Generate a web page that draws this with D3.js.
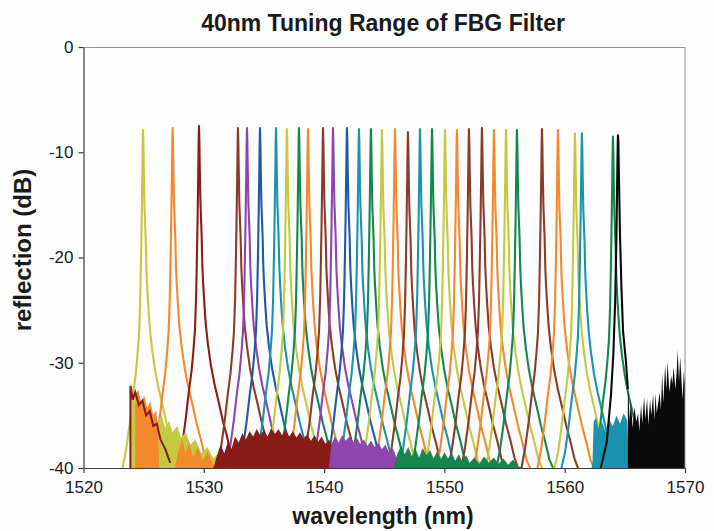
<!DOCTYPE html>
<html>
<head>
<meta charset="utf-8">
<script src="https://cdn.jsdelivr.net/npm/d3@7"></script>
<style>
  html, body { margin: 0; padding: 0; background: #fdfdfd; }
  svg { display: block; font-family: "Liberation Sans", Arial, sans-serif; }
</style>
</head>
<body>
<svg id="chart" width="714" height="531"></svg>
<script>
// Peak centres (nm), peak levels (dB) and trace colours
const peakCenters = [1524.95, 1527.41, 1529.60, 1532.84, 1533.59, 1534.67, 1536.00, 1536.91, 1537.91, 1538.66,
                     1539.91, 1540.74, 1541.90, 1542.90, 1543.89, 1544.81, 1545.89, 1546.97, 1547.97, 1548.97,
                     1550.05, 1551.04, 1552.04, 1553.12, 1554.12, 1555.12, 1556.03, 1558.11, 1559.44, 1560.85,
                     1561.43, 1564.01];
const peakLevels = [-7.9, -7.7, -7.5, -7.7, -7.7, -7.7, -7.7, -7.8, -7.7, -7.8,
                    -7.7, -7.7, -7.7, -7.8, -7.8, -7.9, -7.8, -8.1, -7.8, -7.8,
                    -7.9, -7.9, -7.8, -7.7, -7.9, -7.9, -7.9, -7.8, -7.9, -8.2,
                    -8.2, -8.5];
const peakColors = ["yg", "orange", "maroon", "brown", "purple", "blue", "teal", "yg", "green", "orange",
                    "brown", "purple", "blue", "teal", "green", "yg", "orange", "brown", "teal", "green",
                    "yg", "orange", "brown", "brown", "orange", "yg", "green", "brown", "orange", "yg",
                    "teal", "green"];

// shape of one reflection peak: offset from centre (nm) and level (dB, top = -7.7)
const shapeOffsets = [-1.7, -1.4, -1.1, -0.85, -0.62, -0.46, -0.33, -0.24, -0.17, -0.11, -0.06, -0.025, 0,
                      0.03, 0.07, 0.12, 0.17, 0.22, 0.28, 0.34, 0.44, 0.56, 0.75, 1.0, 1.3, 1.65, 2.0, 2.35, 2.7, 3.0];
const shapeLevels = [-40, -38, -35.5, -33, -31, -29, -27, -24, -20, -16, -12, -9, -7.7,
                     -9, -12, -15, -16.5, -18, -21, -22.5, -24.5, -26.5, -28.5, -30.5, -32.3, -34, -35.8, -37.3, -39, -40];

// black trace (last one) : peak then the noisy tail up to 1570 nm
const blackTrace = [[1563.0, -40], [1563.5, -37.5], [1563.85, -33], [1564.05, -29], [1564.2, -24], [1564.3, -18],
  [1564.37, -12], [1564.41, -9], [1564.43, -8.4], [1564.46, -9], [1564.52, -13], [1564.6, -18], [1564.72, -23],
  [1564.85, -27], [1565.1, -30], [1565.25, -32.5]];
const blackNoise = [[1565.3, -33.0], [1565.4, -35.5], [1565.5, -33.6], [1565.65, -36.2], [1565.8, -34.2], [1565.95, -35.6],
  [1566.1, -34.8], [1566.2, -36.5], [1566.35, -34.0], [1566.45, -35.8], [1566.6, -33.2], [1566.7, -35.4], [1566.85, -33.4],
  [1566.95, -35.9], [1567.1, -33.5], [1567.2, -35.0], [1567.35, -33.0], [1567.45, -35.5], [1567.55, -32.9], [1567.65, -34.8],
  [1567.8, -33.6], [1567.9, -32.8], [1568.0, -34.5], [1568.1, -31.0], [1568.2, -33.8], [1568.35, -30.2], [1568.45, -32.6],
  [1568.55, -29.9], [1568.7, -32.8], [1568.85, -31.2], [1568.95, -32.0], [1569.05, -30.4], [1569.2, -32.5], [1569.3, -31.0],
  [1569.4, -28.8], [1569.5, -31.8], [1569.6, -29.5], [1569.7, -31.5], [1569.8, -33.5], [1569.9, -30.8], [1570, -32]];

// noise floors (top edge, dB) seen at the bottom of the plot
const floorYG = [[1523.9, -31.8], [1524.2, -33.0], [1524.4, -34.5], [1524.7, -35.5], [1525.2, -36.5], [1525.6, -35.4],
  [1525.9, -34.8], [1526.2, -35.6], [1526.5, -35.0], [1526.8, -36.2], [1527.1, -35.5], [1527.4, -36.6], [1527.8, -36.0],
  [1528.1, -37.1], [1528.5, -36.6], [1528.9, -37.8], [1529.3, -37.3], [1529.8, -38.6], [1530.3, -38.0], [1530.8, -39.1],
  [1531.3, -38.5], [1531.8, -39.4], [1532.3, -40]];
const floorOrange = [[1524.3, -33.0], [1524.55, -32.6], [1524.8, -33.8], [1525.05, -33.1], [1525.3, -34.3], [1525.55, -33.7],
  [1525.8, -35.0], [1526.05, -34.5], [1526.2, -36.5], [1526.3, -40]];
const floorOrange2 = [[1527.6, -40], [1527.9, -38.4], [1528.2, -37.2], [1528.5, -38.6], [1528.8, -37.6], [1529.1, -39.0],
  [1529.5, -38.0], [1529.9, -39.3], [1530.3, -38.4], [1530.7, -39.5], [1531.0, -40]];
const floorMaroon = [[1530.8, -40], [1531.1, -38.8], [1531.4, -37.8], [1531.7, -38.6], [1532.0, -37.5], [1532.3, -38.2],
  [1532.6, -37.0], [1532.9, -37.6], [1533.2, -36.7], [1533.5, -37.3], [1533.8, -36.5], [1534.1, -37.0], [1534.4, -36.3],
  [1534.7, -36.9], [1535.0, -36.4], [1535.3, -37.0], [1535.6, -36.2], [1535.9, -36.8], [1536.2, -36.3], [1536.5, -36.9],
  [1536.8, -36.4], [1537.1, -37.0], [1537.4, -36.5], [1537.7, -37.1], [1538.0, -36.6], [1538.3, -37.2], [1538.6, -36.8],
  [1538.9, -37.4], [1539.2, -36.9], [1539.5, -37.5], [1539.8, -37.0], [1540.1, -37.7], [1540.4, -37.3], [1540.7, -38.0],
  [1541.0, -37.6], [1541.3, -38.3], [1541.6, -37.9], [1541.9, -38.7], [1542.2, -39.5], [1542.3, -40]];
const floorPurple = [[1540.4, -40], [1540.6, -37.8], [1540.9, -37.0], [1541.2, -37.6], [1541.5, -36.9], [1541.8, -37.4],
  [1542.1, -37.0], [1542.4, -37.6], [1542.7, -37.1], [1543.0, -37.7], [1543.3, -37.3], [1543.6, -37.9], [1543.9, -37.4],
  [1544.2, -38.0], [1544.5, -37.6], [1544.8, -38.2], [1545.1, -37.8], [1545.4, -38.5], [1545.7, -38.1], [1546.0, -38.9],
  [1546.4, -39.4], [1546.6, -40]];
const floorGreen = [[1545.8, -40], [1546.1, -38.6], [1546.4, -37.9], [1546.7, -38.7], [1547.0, -38.0], [1547.3, -38.9],
  [1547.6, -38.2], [1547.9, -39.0], [1548.2, -38.1], [1548.5, -38.8], [1548.8, -38.3], [1549.1, -39.1], [1549.4, -38.4],
  [1549.7, -39.2], [1550.0, -38.5], [1550.3, -39.1], [1550.6, -38.6], [1550.9, -39.3], [1551.2, -38.7], [1551.5, -39.4],
  [1551.8, -38.8], [1552.1, -39.5], [1552.5, -39.0], [1552.9, -39.6], [1553.3, -38.9], [1553.7, -39.5], [1554.1, -39.0],
  [1554.5, -39.6], [1554.9, -39.1], [1555.3, -39.7], [1555.7, -39.2], [1556.1, -39.8], [1556.5, -40]];
const floorTeal = [[1562.3, -40], [1562.4, -35.6], [1562.6, -35.2], [1562.8, -36.3], [1563.1, -35.6],
  [1563.4, -36.6], [1563.7, -35.4], [1564.0, -36.0], [1564.3, -35.0], [1564.6, -35.8], [1564.9, -34.8], [1565.2, -35.5],
  [1565.35, -40]];
// dark red noise running down from the start of the scan
const maroonTail = [[1523.9, -40], [1523.9, -32.2], [1524.1, -33.5], [1524.3, -32.8], [1524.6, -34.0], [1524.9, -33.6],
  [1525.2, -35.0], [1525.5, -34.6], [1525.8, -36.0], [1526.1, -35.8], [1526.4, -37.3], [1526.8, -38.2], [1527.2, -39.5]];

const xTicks = [1520, 1530, 1540, 1550, 1560, 1570];
const yTicks = [0, -10, -20, -30, -40];

const colors = {
  yg: "#c3c941", orange: "#f4882d", maroon: "#8a1c17", brown: "#893c2b",
  purple: "#8e45ad", blue: "#1f59a6", teal: "#1a93ae", green: "#13874e", black: "#0a0a0a"
};

const svg = d3.select("#chart");
const x = d3.scaleLinear().domain([1520, 1570]).range([83.5, 685]);
const y = d3.scaleLinear().domain([-40, 0]).range([468, 47]);

svg.append("defs").append("clipPath").attr("id", "plot")
  .append("rect").attr("x", 83.5).attr("y", 47).attr("width", 601.5).attr("height", 421);

const plot = svg.append("g").attr("clip-path", "url(#plot)");
const line = d3.line().x(d => x(d[0])).y(d => y(d[1]));
const area = d3.area().x(d => x(d[0])).y0(y(-40)).y1(d => y(d[1]));

// peak traces
peakCenters.forEach((c, i) => {
  const shift = peakLevels[i] + 7.7;
  const pts = shapeOffsets.map((o, j) => [c + o, shapeLevels[j] === -40 ? -40 : shapeLevels[j] + shift]);
  plot.append("path")
    .attr("d", line(pts))
    .attr("fill", "none")
    .attr("stroke", colors[peakColors[i]])
    .attr("stroke-width", 2.1)
    .attr("stroke-linejoin", "round");
});

// noise floors on top of the feet of the peaks
const floors = [
  [floorYG, "yg"], [floorOrange, "orange"], [floorOrange2, "orange"], [floorMaroon, "maroon"],
  [floorPurple, "purple"], [floorGreen, "green"], [floorTeal, "teal"]
];
floors.forEach(([pts, c]) => {
  plot.append("path").attr("d", area(pts)).attr("fill", colors[c]);
});
plot.append("path").attr("d", line(maroonTail)).attr("fill", "none")
  .attr("stroke", colors.maroon).attr("stroke-width", 2);

// black trace and its noisy tail
plot.append("path").attr("d", line(blackTrace)).attr("fill", "none")
  .attr("stroke", colors.black).attr("stroke-width", 2.1).attr("stroke-linejoin", "round");
plot.append("path").attr("d", area([[1565.25, -32.5]].concat(blackNoise))).attr("fill", colors.black);

// frame
svg.append("line").attr("x1", 83.5).attr("x2", 685).attr("y1", 47.5).attr("y2", 47.5)
  .attr("stroke", "#9c8f8c").attr("stroke-width", 1);
svg.append("line").attr("x1", 685).attr("x2", 685).attr("y1", 47).attr("y2", 468)
  .attr("stroke", "#9c8f8c").attr("stroke-width", 1);

// axes
const xAxis = svg.append("g").attr("transform", "translate(0,468)")
  .call(d3.axisBottom(x).tickValues(xTicks).tickSize(5).tickSizeOuter(0).tickPadding(8).tickFormat(d => String(d)));
const yAxis = svg.append("g").attr("transform", "translate(83.5,0)")
  .call(d3.axisLeft(y).tickValues(yTicks).tickSize(5).tickSizeOuter(0).tickPadding(5).tickFormat(d => String(d)));
[xAxis, yAxis].forEach(g => {
  g.select(".domain").attr("stroke", "#3c3c3c").attr("stroke-width", 1.2);
  g.selectAll(".tick line").attr("stroke", "#3c3c3c").attr("stroke-width", 1.2);
  g.selectAll(".tick text").attr("fill", "#1a1a1a").style("font-size", "17px")
    .style("font-family", "'Liberation Sans', Arial, sans-serif");
});

// titles
svg.append("text").attr("x", 383).attr("y", 31).attr("text-anchor", "middle")
  .style("font-size", "23px").style("font-weight", "bold").attr("fill", "#1a1a1a")
  .text("40nm Tuning Range of FBG Filter");
svg.append("text").attr("x", 383).attr("y", 524).attr("text-anchor", "middle")
  .style("font-size", "23px").style("font-weight", "bold").attr("fill", "#1a1a1a")
  .text("wavelength (nm)");
svg.append("text").attr("transform", "translate(31,250) rotate(-90)").attr("text-anchor", "middle")
  .style("font-size", "24px").style("font-weight", "bold").attr("fill", "#1a1a1a")
  .text("reflection (dB)");
</script>
</body>
</html>
